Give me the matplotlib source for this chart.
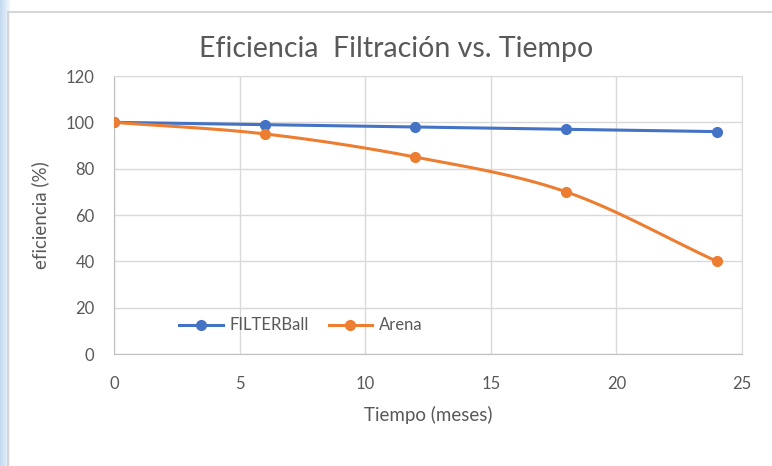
import matplotlib.pyplot as plt
import numpy as np
from matplotlib.patches import Rectangle

# Data
meses = [0, 6, 12, 18, 24]
filterball = [100, 99, 98, 97, 96]
arena = [100, 95, 85, 70, 40]

BLUE = "#4472C4"
ORANGE = "#ED7D31"
GRAY_TXT = "#595959"
GRID = "#D9D9D9"


def smooth(x, y, n=30):
    """Catmull-Rom path through the points, similar to Excel smoothed lines."""
    x = np.asarray(x, dtype=float)
    y = np.asarray(y, dtype=float)
    px = np.concatenate([[2 * x[0] - x[1]], x, [2 * x[-1] - x[-2]]])
    py = np.concatenate([[2 * y[0] - y[1]], y, [2 * y[-1] - y[-2]]])
    xs, ys = [], []
    t = np.linspace(0, 1, n)
    for i in range(1, len(px) - 2):
        for p, out in ((px, xs), (py, ys)):
            p0, p1, p2, p3 = p[i - 1], p[i], p[i + 1], p[i + 2]
            out.extend(0.5 * ((2 * p1) + (-p0 + p2) * t
                              + (2 * p0 - 5 * p1 + 4 * p2 - p3) * t ** 2
                              + (-p0 + 3 * p1 - 3 * p2 + p3) * t ** 3))
    return np.array(xs), np.array(ys)


plt.rcParams["font.family"] = ["Lato", "DejaVu Sans"]

fig = plt.figure(figsize=(7.72, 4.66), dpi=100)

# light blue strip on the left edge and chart border
grad = np.linspace(0.0, 1.0, 50).reshape(1, -1)
bg = fig.add_axes([0, 0, 0.012, 1])
bg.imshow(grad, aspect="auto", cmap="Blues_r", vmin=-3.0, vmax=1.1)
bg.axis("off")
fig.patches.append(Rectangle((0.011, -0.01), 1.0, 0.985, transform=fig.transFigure,
                             fill=False, edgecolor="#D0D0D0", linewidth=1.2))

ax = fig.add_axes([0.1477, 0.2403, 0.8133, 0.5966])

sx, sy = smooth(meses, filterball)
ax.plot(sx, sy, color=BLUE, linewidth=2.2, zorder=3)
ax.plot(meses, filterball, "o", color=BLUE, markersize=7, zorder=4)
sx, sy = smooth(meses, arena)
ax.plot(sx, sy, color=ORANGE, linewidth=2.2, zorder=3)
ax.plot(meses, arena, "o", color=ORANGE, markersize=7, zorder=4)

# legend handles
ax.plot([], [], "-o", color=BLUE, linewidth=2.2, markersize=7, label="FILTERBall")
ax.plot([], [], "-o", color=ORANGE, linewidth=2.2, markersize=7, label="Arena")

ax.set_xlim(0, 25)
ax.set_ylim(0, 120)
ax.set_xticks(range(0, 26, 5))
ax.set_yticks(range(0, 121, 20))
ax.grid(color=GRID, linewidth=1)
ax.set_axisbelow(True)
for s in ax.spines.values():
    s.set_color(GRID)
ax.spines["left"].set_color("#BFBFBF")
ax.spines["bottom"].set_color("#BFBFBF")
ax.tick_params(length=0, labelsize=12, labelcolor=GRAY_TXT, pad=16)
ax.tick_params(axis="y", pad=14)

ax.set_xlabel("Tiempo (meses)", fontsize=13.5, color=GRAY_TXT, labelpad=10)
ax.set_ylabel("eficiencia (%)", fontsize=13.5, color=GRAY_TXT, labelpad=12)
# title is centred on the whole chart area, not on the plot area
fig.text(0.513, 0.895, "Eficiencia  Filtración vs. Tiempo", fontsize=20.5,
         color=GRAY_TXT, ha="center", va="center")

leg = ax.legend(loc="lower left", bbox_to_anchor=(0.08, 0.02), ncol=2, frameon=False,
                fontsize=12, labelcolor=GRAY_TXT, handlelength=2.6, columnspacing=1.2,
                handletextpad=0.4)

fig.savefig("out.png", dpi=100)
